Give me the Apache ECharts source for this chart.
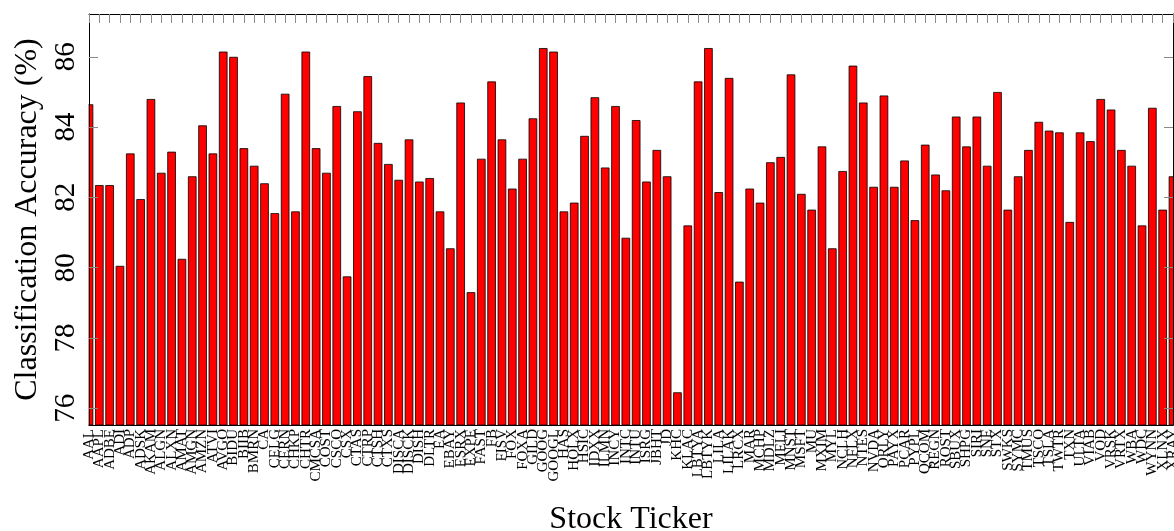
<!DOCTYPE html>
<html>
<head>
<meta charset="utf-8">
<script src="https://cdn.jsdelivr.net/npm/echarts@6/dist/echarts.min.js"></script>
<style>
html,body{margin:0;padding:0;background:#fff;}
#chart{width:1174px;height:531px;}
</style>
</head>
<body>
<div id="chart"></div>
<script>
const categories = ["AAL","AAPL","ADBE","ADI","ADP","ADSK","AKAM","ALGN","ALXN","AMAT","AMGN","AMZN","ATVI","AVGO","BIDU","BIIB","BMRN","CA","CELG","CERN","CHKP","CHTR","CMCSA","COST","CSCO","CSX","CTAS","CTRP","CTSH","CTXS","DISCA","DISCK","DISH","DLTR","EA","EBAY","ESRX","EXPE","FAST","FB","FISV","FOX","FOXA","GILD","GOOG","GOOGL","HAS","HOLX","HSIC","IDXX","ILMN","INCY","INTC","INTU","ISRG","JBHT","JD","KHC","KLAC","LBTYA","LBTYK","LILA","LILAK","LRCX","MAR","MCHP","MDLZ","MELI","MNST","MSFT","MU","MXIM","MYL","NCLH","NFLX","NTES","NVDA","ORLY","PAYX","PCAR","PYPL","QCOM","REGN","ROST","SBUX","SHPG","SIRI","SNE","STX","SWKS","SYMC","TMUS","TSCO","TSLA","TWTR","TXN","ULTA","VIAB","VOD","VRSK","VRTX","WBA","WDC","WYNN","XLNX","XRAY"];

const accuracy = [84.65,82.35,82.35,80.05,83.25,81.95,84.8,82.7,83.3,80.25,82.6,84.05,83.25,86.15,86.0,83.4,82.9,82.4,81.55,84.95,81.6,86.15,83.4,82.7,84.6,79.75,84.45,85.45,83.55,82.95,82.5,83.65,82.45,82.55,81.6,80.55,84.7,79.3,83.1,85.3,83.65,82.25,83.1,84.25,86.25,86.15,81.6,81.85,83.75,84.85,82.85,84.6,80.85,84.2,82.45,83.35,82.6,76.45,81.2,85.3,86.25,82.15,85.4,79.6,82.25,81.85,83.0,83.15,85.5,82.1,81.65,83.45,80.55,82.75,85.75,84.7,82.3,84.9,82.3,83.05,81.35,83.5,82.65,82.2,84.3,83.45,84.3,82.9,85.0,81.65,82.6,83.35,84.15,83.9,83.85,81.3,83.85,83.6,84.8,84.5,83.35,82.9,81.2,84.55,81.65,82.6];

const yTicks = [76,78,80,82,84,86];
const yMin = 75.52;
const yMax = 87.22;

const FONT = '"Liberation Serif", "DejaVu Serif", serif';
const tickStyle = {color:'#8a8a8a', width:1};
const lineStyle = {color:'#000', width:1};

const GRID = {left:89, right:1, top:14, bottom:106};

const chart = echarts.init(document.getElementById('chart'), null, {renderer:'canvas'});
chart.setOption({
  animation:false,
  backgroundColor:'#fff',
  grid:{left:GRID.left, right:GRID.right, top:GRID.top, bottom:GRID.bottom, containLabel:false, outerBoundsMode:'none'},
  graphic:[
    // mask: bars on a boundaryGap:false axis are not clipped by ECharts
    {type:'rect', z:50, silent:true,
     shape:{x:GRID.left-12, y:GRID.top-2, width:11.5, height:531-GRID.top-GRID.bottom+3},
     style:{fill:'#fff'}}
  ],
  xAxis:[
    {
      type:'category', data:categories, boundaryGap:false, position:'bottom', z:60,
      axisLine:{show:true, lineStyle:lineStyle},
      axisTick:{show:false},
      axisLabel:{interval:0, rotate:90, fontFamily:FONT, fontSize:15, color:'#000', margin:4},
      splitLine:{show:false},
      name:'Stock Ticker', nameLocation:'middle', nameGap:79,
      nameTextStyle:{fontFamily:FONT, fontSize:32, color:'#000'}
    },
    {
      type:'category', data:categories, boundaryGap:false, position:'top', z:60,
      axisLine:{show:true, lineStyle:lineStyle},
      axisTick:{show:true, inside:true, interval:0, length:9, lineStyle:tickStyle},
      axisLabel:{show:false}, splitLine:{show:false}
    }
  ],
  yAxis:[
    {
      type:'value', min:yMin, max:yMax, position:'left', z:60,
      axisLine:{show:true, lineStyle:lineStyle},
      axisTick:{show:true, inside:true, length:9, lineStyle:tickStyle, customValues:yTicks},
      axisLabel:{customValues:yTicks, rotate:90, fontFamily:FONT, fontSize:29, color:'#000', margin:8},
      splitLine:{show:false},
      name:'Classification Accuracy (%)', nameLocation:'middle', nameGap:45,
      nameTextStyle:{fontFamily:FONT, fontSize:32, color:'#000'}
    },
    {
      type:'value', min:yMin, max:yMax, position:'right', z:60,
      axisLine:{show:true, lineStyle:lineStyle},
      axisTick:{show:true, inside:true, length:9, lineStyle:tickStyle, customValues:yTicks},
      axisLabel:{show:false}, splitLine:{show:false}
    }
  ],
  series:[{
    type:'bar', data:accuracy, xAxisIndex:0, yAxisIndex:0,
    barWidth:8.6, clip:true,
    itemStyle:{color:'#ff0000', borderColor:'#000', borderWidth:0.8}
  }]
});
</script>
</body>
</html>
